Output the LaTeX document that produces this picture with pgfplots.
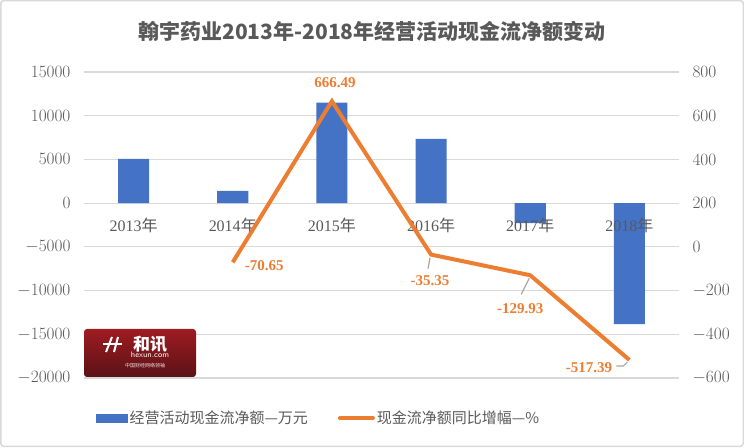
\documentclass[border=0pt]{standalone}
\usepackage{fontspec}
\setmainfont{Liberation Serif}
\newfontfamily\cjk{Noto Sans CJK SC}
\usepackage{pgfplots}
\pgfplotsset{compat=1.18}
\definecolor{barblue}{HTML}{4472C4}
\definecolor{lineorange}{HTML}{ED7D31}
\definecolor{txtgray}{HTML}{595959}
\definecolor{gridgray}{HTML}{D9D9D9}
\definecolor{leadgray}{HTML}{A6A6A6}
\definecolor{logotop}{HTML}{9E1C22}
\definecolor{logobot}{HTML}{5A1216}

\begin{document}
\begin{tikzpicture}[lbl/.style={lineorange, font=\fontsize{15}{18}\selectfont\bfseries, inner sep=1pt}]
\useasboundingbox (0,0) rectangle (744pt,447pt);
\draw[gridgray, line width=1.5pt, rounded corners=3pt] (0.75pt,0.75pt) rectangle (743.25pt,446.25pt);
\node[txtgray, font=\cjk\bfseries\fontsize{21}{24}\selectfont] at (372pt,416pt) {翰宇药业2013年-2018年经营活动现金流净额变动};

% bars, left axis (10k yuan)
\begin{axis}[
    at={(84pt,69pt)}, anchor=south west,
    scale only axis, width=595pt, height=306pt,
    xmin=-0.5, xmax=5.5, ymin=-20000, ymax=15000,
    axis x line=middle, axis y line*=left,
    x axis line style={gridgray, line width=1.2pt, -},
    y axis line style={draw=none},
    hide obscured y ticks=false,
    xtick=\empty,
    ytick={-20000,-15000,...,15000},
    yticklabel={\pgfmathprintnumber{\tick}},
    major tick length=0pt,
    ymajorgrids, grid style={gridgray, line width=1.2pt},
    scaled y ticks=false,
    /pgf/number format/set thousands separator={},
    yticklabel style={xshift=-10pt},
    tick label style={txtgray, font=\fontsize{16}{19}\selectfont},
]
\addplot[ybar, bar width=31pt, fill=barblue, draw=none]
  coordinates {(0,5050) (1,1400) (2,11500) (3,7350) (4,-2300) (5,-13850)};
% category names, set on the zero line above the bars
\addplot[draw=none, mark=none, point meta=explicit symbolic,
  nodes near coords={\pgfplotspointmeta{\cjk 年}},
  nodes near coords style={anchor=north, yshift=-11pt, text=txtgray, font=\fontsize{16}{19}\selectfont}]
  coordinates {(0,0) [2013] (1,0) [2014] (2,0) [2015] (3,0) [2016] (4,0) [2017] (5,0) [2018]};
\end{axis}

% line, right axis (percent)
\begin{axis}[
    at={(84pt,69pt)}, anchor=south west,
    scale only axis, width=595pt, height=306pt,
    xmin=-0.5, xmax=5.5, ymin=-600, ymax=800,
    axis x line=none, axis y line*=right,
    y axis line style={draw=none},
    ytick={-600,-400,...,800},
    yticklabel={\pgfmathprintnumber{\tick}},
    major tick length=0pt,
    yticklabel style={xshift=10pt},
    tick label style={txtgray, font=\fontsize{16}{19}\selectfont},
    legend style={at={(0.015,-0.131)}, anchor=west, draw=none, fill=none,
        legend columns=2, text=txtgray, font=\cjk\fontsize{15}{18}\selectfont,
        /tikz/every even column/.append style={column sep=28pt}},
]
\addlegendimage{legend image code/.code={\fill[barblue] (0pt,-4pt) rectangle (31pt,4pt);}}
\addlegendentry{经营活动现金流净额—万元}
\addplot[lineorange, line width=4pt,
  legend image code/.code={\draw[lineorange, line width=4pt, line cap=round] (0pt,0pt) -- (33pt,0pt);}]
  coordinates {(1,-70.65) (2,666.49) (3,-35.35) (4,-129.93) (5,-517.39)};
\addlegendentry{现金流净额同比增幅—\%}

\node[lbl] at ([shift={(3pt,19pt)}]axis cs:2,666.49) {666.49};
\node[lbl, anchor=west] at ([shift={(11pt,-3pt)}]axis cs:1,-70.65) {-70.65};
\draw[leadgray, line width=1.2pt] ([shift={(-1pt,-3pt)}]axis cs:3,-35.35) -- ([shift={(-3pt,-14pt)}]axis cs:3,-35.35);
\node[lbl] at ([shift={(-1pt,-26pt)}]axis cs:3,-35.35) {-35.35};
\draw[leadgray, line width=1.2pt] ([shift={(-1pt,-3pt)}]axis cs:4,-129.93) -- ([shift={(-9pt,-19pt)}]axis cs:4,-129.93);
\node[lbl] at ([shift={(-10pt,-33pt)}]axis cs:4,-129.93) {-129.93};
\draw[leadgray, line width=1.2pt] ([shift={(-2pt,-2pt)}]axis cs:5,-517.39) -- ([shift={(-6pt,-6pt)}]axis cs:5,-517.39) -- ([shift={(-13pt,-6pt)}]axis cs:5,-517.39);
\node[lbl, anchor=east] at ([shift={(-16pt,-8pt)}]axis cs:5,-517.39) {-517.39};
\end{axis}

% watermark logo
\shade[rounded corners=3pt, top color=logotop, bottom color=logobot] (84pt,70pt) rectangle (196pt,118pt);
\draw[white, line width=2pt] (106pt,95pt) -- (112pt,110pt);
\draw[white, line width=2pt] (114pt,95pt) -- (118pt,110pt);
\draw[white, line width=1.6pt] (103pt,103pt) -- (122pt,103pt);
\node[white, font=\cjk\bfseries\fontsize{17}{19}\selectfont] at (150pt,103pt) {和讯};
\node[white, font=\sffamily\fontsize{8}{9}\selectfont] at (150pt,92pt) {hexun.com};
\node[white!85!logotop, font=\cjk\fontsize{5}{6}\selectfont] at (145pt,81pt) {中国财经网络领袖};
\end{tikzpicture}
\end{document}
